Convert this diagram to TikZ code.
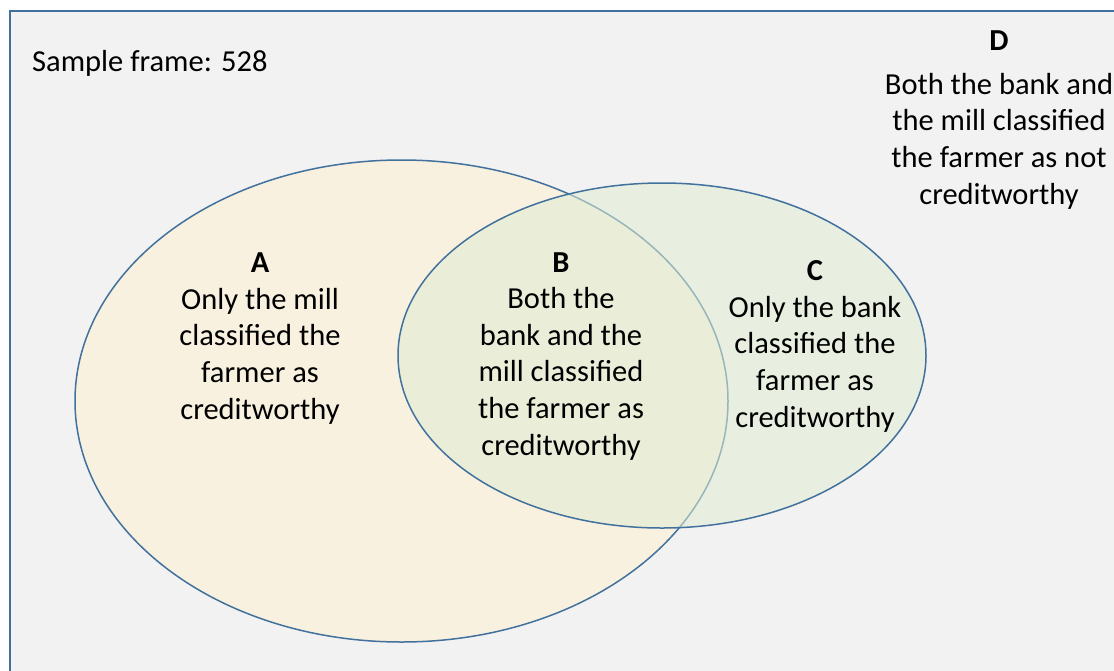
\documentclass[tikz,border=0pt]{standalone}
\usepackage{fontspec}
\setmainfont{Carlito}
\definecolor{lineblue}{RGB}{65,113,156}
\definecolor{framegray}{RGB}{242,242,242}
\definecolor{creamA}{RGB}{248,241,224}
\definecolor{greenC}{RGB}{224,237,211}
\begin{document}
\begin{tikzpicture}[x=1pt,y=-1pt,
  lbl/.style={inner sep=0pt, anchor=base, align=center, font=\fontsize{30.5}{36.6}\selectfont},
  setline/.style={draw=lineblue, line width=1.5pt}]
\useasboundingbox (0,0) rectangle (1114,670);
\fill[white] (0,0) rectangle (1114,670);
\fill[framegray] (10,11) rectangle (1130,690);
\draw[setline] (10,690) -- (10,11) -- (1130,11);
% ellipse A
\fill[creamA] (401.5,401) ellipse [x radius=326.5, y radius=241];
\draw[setline] (401.5,401) ellipse [x radius=326.5, y radius=241];
% ellipse C
\fill[greenC, fill opacity=0.55] (662,355.5) ellipse [x radius=264, y radius=172.5];
\draw[setline] (662,355.5) ellipse [x radius=264, y radius=172.5];
% labels
\node[lbl, anchor=base west] (frame) at (32,71) {Sample frame: 528};
\node[lbl] (A) at (260,419) {\textbf{A}\\Only the mill\\classified the\\farmer as\\creditworthy};
\node[lbl] (B) at (561,455) {\textbf{B}\\Both the\\bank and the\\mill classified\\the farmer as\\creditworthy};
\node[lbl] (C) at (815,427) {\textbf{C}\\Only the bank\\classified the\\farmer as\\creditworthy};
\node[lbl] (D) at (999,204) {\textbf{D}\\[7pt]Both the bank and\\the mill classified\\the farmer as not\\creditworthy};
\end{tikzpicture}
\end{document}
